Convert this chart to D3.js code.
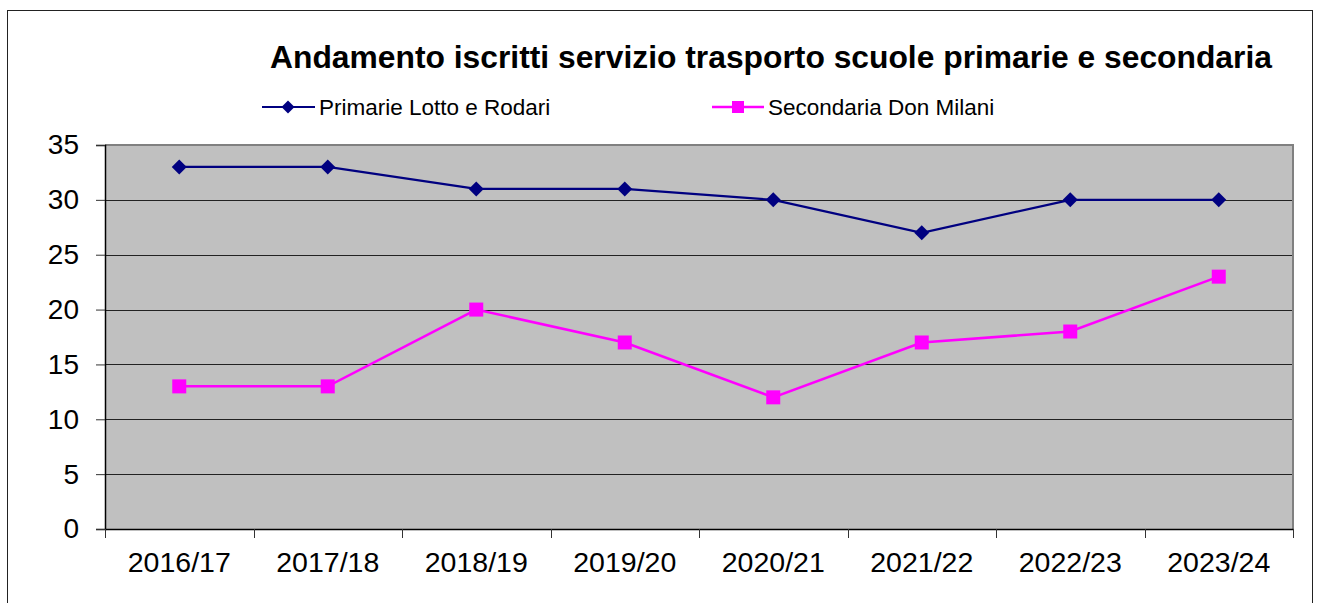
<!DOCTYPE html>
<html>
<head>
<meta charset="utf-8">
<script src="https://cdn.jsdelivr.net/npm/d3@7"></script>
<style>
  html, body { margin: 0; padding: 0; background: #fff; }
  svg { display: block; font-family: "Liberation Sans", Arial, sans-serif; }
</style>
</head>
<body>
<svg id="chart" width="1320" height="603"></svg>
<script>
const categories = ["2016/17", "2017/18", "2018/19", "2019/20", "2020/21", "2021/22", "2022/23", "2023/24"];
const primarie = [33, 33, 31, 31, 30, 27, 30, 30];
const secondaria = [13, 13, 20, 17, 12, 17, 18, 23];
const yTicks = [0, 5, 10, 15, 20, 25, 30, 35];
const titleText = "Andamento iscritti servizio trasporto scuole primarie e secondaria";
const seriesNames = ["Primarie Lotto e Rodari", "Secondaria Don Milani"];

const svg = d3.select("#chart");
const plot = { left: 105, right: 1293, top: 145, bottom: 529 };

// outer frame
svg.append("rect").attr("x", 7.5).attr("y", 10.5).attr("width", 1305).attr("height", 600)
  .attr("fill", "#fff").attr("stroke", "#222").attr("stroke-width", 1);

const x = d3.scaleBand().domain(categories).range([plot.left, plot.right]).padding(0);
const y = d3.scaleLinear().domain([0, 35]).range([plot.bottom, plot.top]);

// plot background
svg.append("rect").attr("x", plot.left).attr("y", plot.top)
  .attr("width", plot.right - plot.left).attr("height", plot.bottom - plot.top)
  .attr("fill", "#c0c0c0");

// gridlines
svg.append("g").selectAll("line").data(yTicks.filter(d => d > 0 && d < 35)).join("line")
  .attr("x1", plot.left).attr("x2", plot.right)
  .attr("y1", d => Math.round(y(d)) + 0.5).attr("y2", d => Math.round(y(d)) + 0.5)
  .attr("stroke", "#222").attr("stroke-width", 1);

// top & right border (gray)
svg.append("path")
  .attr("d", `M${plot.left},${plot.top} H${plot.right} V${plot.bottom}`)
  .attr("fill", "none").attr("stroke", "#808080").attr("stroke-width", 2);

// y axis
const yAxis = d3.axisLeft(y).tickValues(yTicks).tickSize(9).tickPadding(17);
const gy = svg.append("g").attr("transform", `translate(${plot.left},0)`).call(yAxis);
gy.select(".domain").attr("stroke", "#000").attr("stroke-width", 1.5);
gy.selectAll(".tick line").attr("stroke", "#333");
gy.selectAll(".tick text").attr("font-size", 28).attr("fill", "#000")
  .attr("font-family", "'Liberation Sans', Arial, sans-serif");

// x axis
const xAxis = d3.axisBottom(x).tickSize(0).tickPadding(23);
const gx = svg.append("g").attr("transform", `translate(0,${plot.bottom})`).call(xAxis);
gx.select(".domain").attr("stroke", "#000").attr("stroke-width", 1.5);
gx.selectAll(".tick text").attr("font-size", 28.5).attr("fill", "#000")
  .attr("font-family", "'Liberation Sans', Arial, sans-serif");
// category boundary ticks
const bounds = categories.map(c => x(c)).concat([x(categories[categories.length - 1]) + x.bandwidth()]);
svg.append("g").selectAll("line").data(bounds).join("line")
  .attr("x1", d => Math.round(d) + 0.5).attr("x2", d => Math.round(d) + 0.5)
  .attr("y1", plot.bottom).attr("y2", plot.bottom + 9)
  .attr("stroke", "#333").attr("stroke-width", 1);

const cx = c => x(c) + x.bandwidth() / 2;
const line = d3.line().x((d, i) => cx(categories[i])).y(d => y(d));

// series lines
svg.append("path").datum(primarie).attr("d", line)
  .attr("fill", "none").attr("stroke", "#000080").attr("stroke-width", 2.2);
svg.append("path").datum(secondaria).attr("d", line)
  .attr("fill", "none").attr("stroke", "#ff00ff").attr("stroke-width", 2.5);

// markers
svg.append("g").selectAll("path").data(primarie).join("path")
  .attr("transform", (d, i) => `translate(${cx(categories[i])},${y(d)})`)
  .attr("d", "M0,-7.5L7.5,0L0,7.5L-7.5,0Z").attr("fill", "#000080");
svg.append("g").selectAll("rect").data(secondaria).join("rect")
  .attr("x", (d, i) => cx(categories[i]) - 7).attr("y", d => y(d) - 7)
  .attr("width", 14).attr("height", 14).attr("fill", "#ff00ff");

// title
svg.append("text").attr("x", 771).attr("y", 68).attr("text-anchor", "middle")
  .attr("font-size", 31.8).attr("font-weight", "bold").attr("fill", "#000")
  .text(titleText);

// legend
const legY = 107;
const leg1 = svg.append("g");
leg1.append("line").attr("x1", 262).attr("x2", 315).attr("y1", legY).attr("y2", legY)
  .attr("stroke", "#000080").attr("stroke-width", 2.2);
leg1.append("path").attr("transform", `translate(288,${legY})`)
  .attr("d", "M0,-6.5L6.5,0L0,6.5L-6.5,0Z").attr("fill", "#000080");
leg1.append("text").attr("x", 319).attr("y", legY + 8).attr("font-size", 22.5).attr("fill", "#000")
  .text(seriesNames[0]);

const leg2 = svg.append("g");
leg2.append("line").attr("x1", 712).attr("x2", 764).attr("y1", legY).attr("y2", legY)
  .attr("stroke", "#ff00ff").attr("stroke-width", 2.5);
leg2.append("rect").attr("x", 732).attr("y", legY - 6).attr("width", 12).attr("height", 12)
  .attr("fill", "#ff00ff");
leg2.append("text").attr("x", 768).attr("y", legY + 8).attr("font-size", 22.5).attr("fill", "#000")
  .text(seriesNames[1]);
</script>
</body>
</html>
